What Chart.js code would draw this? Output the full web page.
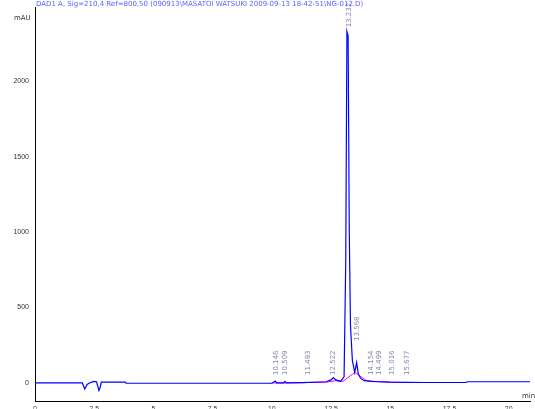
<!DOCTYPE html>
<html><head><meta charset="UTF-8">
<script src="https://cdn.jsdelivr.net/npm/chart.js"></script>
<style>body{margin:0;background:#fff}#wrap{width:535px;height:409px}</style>
</head><body><div id="wrap"><canvas id="c"></canvas></div>
<script>
// trace points (min, mAU)
const times = [0,2.0,2.1,2.2,2.3,2.4,2.5,2.6,2.7,2.75,2.8,3.8,3.85,10.0,10.1,10.15,10.2,10.5,10.55,10.6,11.3,12.3,12.5,12.6,12.7,12.9,13.05,13.12,13.17,13.22,13.27,13.32,13.4,13.5,13.58,13.65,13.75,13.9,14.2,14.5,15.0,15.7,16.5,18.2,18.25,21];
const signal = [0,0,-40,-10,0,5,10,8,-50,-30,5,5,-2,-2,8,12,0,0,10,0,2,8,20,35,20,10,40,800,2330,2300,1000,380,150,70,135,60,30,15,10,8,5,4,3,3,8,8];
const baselineT = [10.0,10.3,11.3,12.3,12.7,13.0,13.5,14.0,14.5,15.0,15.8];
const baselineY = [0,0,2,5,15,10,70,15,8,5,3];
const peakTimes = [10.146,10.509,11.493,12.522,13.232,13.568,14.154,14.499,15.016,15.677];
const peakLabels = ['10.146','10.509','11.493','12.522','13.232','13.568','14.154','14.499','15.016','15.677'];
const peakHeights = [5,5,5,35,2330,135,15,10,8,5];
const xTicks = [0,2.5,5,7.5,10,12.5,15,17.5,20];
const yTicks = [0,500,1000,1500,2000];
const title = 'DAD1 A, Sig=210,4 Ref=800,50 (090913\\MASATOI WATSUKI 2009-09-13 18-42-51\\NG-012.D)';

const labelPlugin = {
  id: 'peaks',
  afterDatasetsDraw(chart) {
    const {ctx, scales: {x, y}} = chart;
    ctx.save();
    ctx.font = '7px "DejaVu Sans"';
    ctx.fillStyle = '#8888aa';
    peakTimes.forEach((t, i) => {
      const px = x.getPixelForValue(t);
      const py = (i === 4) ? y.getPixelForValue(peakHeights[i]) - 4 : (i === 5 ? y.getPixelForValue(0) - 42 : y.getPixelForValue(0) - 8);
      ctx.save();
      ctx.translate(px + 3, py);
      ctx.rotate(-Math.PI / 2);
      ctx.fillText(peakLabels[i], 0, 0);
      ctx.restore();
    });
    ctx.fillStyle = '#6060ff';
    ctx.fillText(title, 36, 6);
    ctx.fillStyle = '#333';
    ctx.fillText('mAU', 14, 20);
    ctx.fillText('min', 522, 398);
    ctx.restore();
  }
};

new Chart(document.getElementById('c'), {
  type: 'line',
  data: {
    datasets: [
      {data: times.map((t, i) => ({x: t, y: signal[i]})), borderColor: '#0000ff', borderWidth: 1.2, pointRadius: 0, tension: 0},
      {data: baselineT.map((t, i) => ({x: t, y: baselineY[i]})), borderColor: '#ff00ff', borderWidth: 1, pointRadius: 0, tension: 0}
    ]
  },
  options: {
    responsive: true, maintainAspectRatio: false, animation: false,
    layout: {padding: {top: 5, right: 5, bottom: 0}},
    plugins: {legend: {display: false}, tooltip: {enabled: false}},
    scales: {
      x: {type: 'linear', min: 0, max: 20.9,
        afterBuildTicks: s => { s.ticks = xTicks.map(v => ({value: v})); },
        afterFit: s => { s.height = 7; },
        grid: {display: false, tickLength: 3}, border: {color: '#000'},
        ticks: {color: '#333', font: {size: 7}, padding: 0, maxRotation: 0, callback: v => String(v)}},
      y: {min: -125, max: 2490,
        afterBuildTicks: s => { s.ticks = yTicks.map(v => ({value: v})); },
        afterFit: s => { s.width = 35; },
        grid: {display: false, tickLength: 3}, border: {color: '#000'},
        ticks: {color: '#333', font: {size: 7}, callback: v => String(v)}}
    }
  },
  plugins: [labelPlugin]
});
</script></body></html>
